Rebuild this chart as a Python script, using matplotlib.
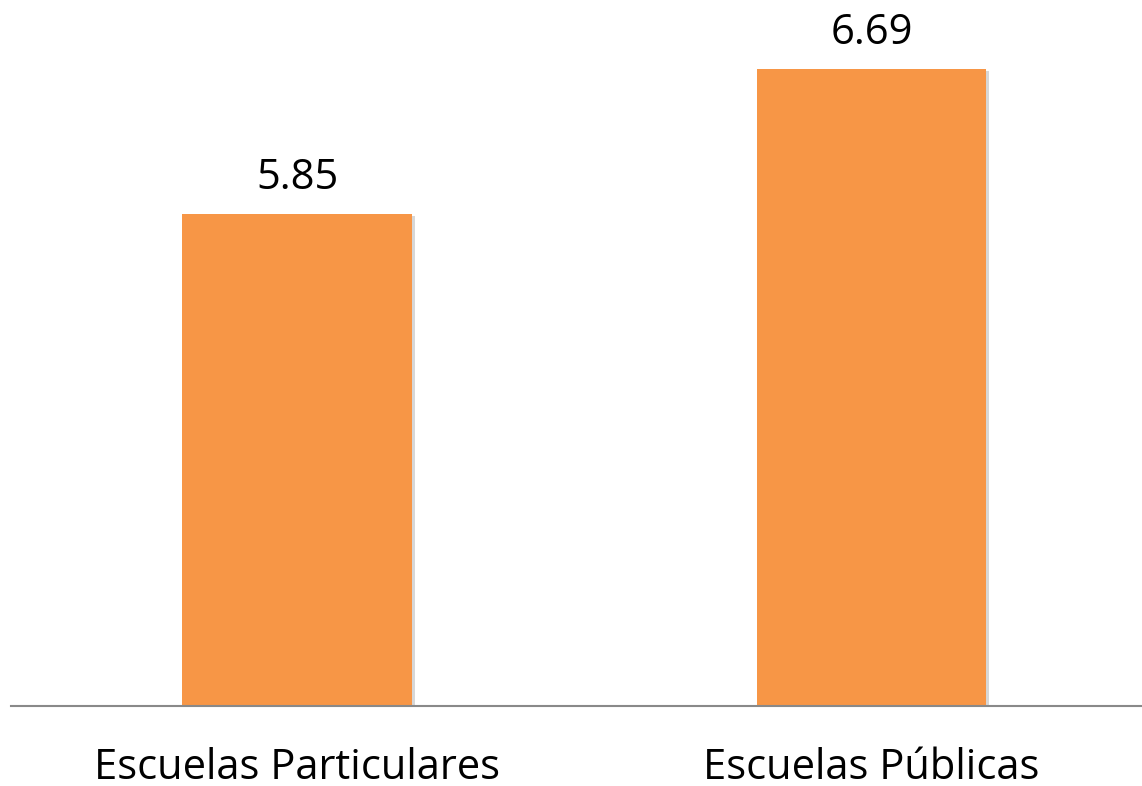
import matplotlib
matplotlib.use('Agg')
import matplotlib.pyplot as plt
import matplotlib.patheffects as pe

categories = ['Escuelas Particulares', 'Escuelas Públicas']
values = [5.85, 6.69]

plt.rcParams['font.family'] = ['Open Sans', 'DejaVu Sans']

fig = plt.figure(figsize=(11.42, 7.86), dpi=100)
ax = fig.add_axes([11 / 1142, 80.5 / 786, 1131 / 1142, 690.5 / 786])

x = list(range(len(categories)))
bars = ax.bar(x, values, width=0.4, bottom=0, color='#F79646', zorder=3)
for b in bars:
    b.set_path_effects([pe.SimplePatchShadow(offset=(2, -2), shadow_rgbFace='#b0b0b0', alpha=0.5), pe.Normal()])

ax.set_ylim(3, 7)
ax.set_xlim(-0.498, 1.471)

for xi, v in zip(x, values):
    ax.annotate(f'{v:.2f}', (xi, v), xytext=(0, 18), textcoords='offset points',
                ha='center', va='baseline', fontsize=30, color='black')

ax.set_xticks(x)
ax.set_xticklabels(categories, fontsize=30)
ax.tick_params(axis='x', length=0, pad=30)
ax.set_yticks([])

for s in ['top', 'right', 'left']:
    ax.spines[s].set_visible(False)
ax.spines['bottom'].set_color('#898989')
ax.spines['bottom'].set_linewidth(1.5)
ax.spines['bottom'].set_zorder(4)

fig.savefig('out.png', dpi=100)
